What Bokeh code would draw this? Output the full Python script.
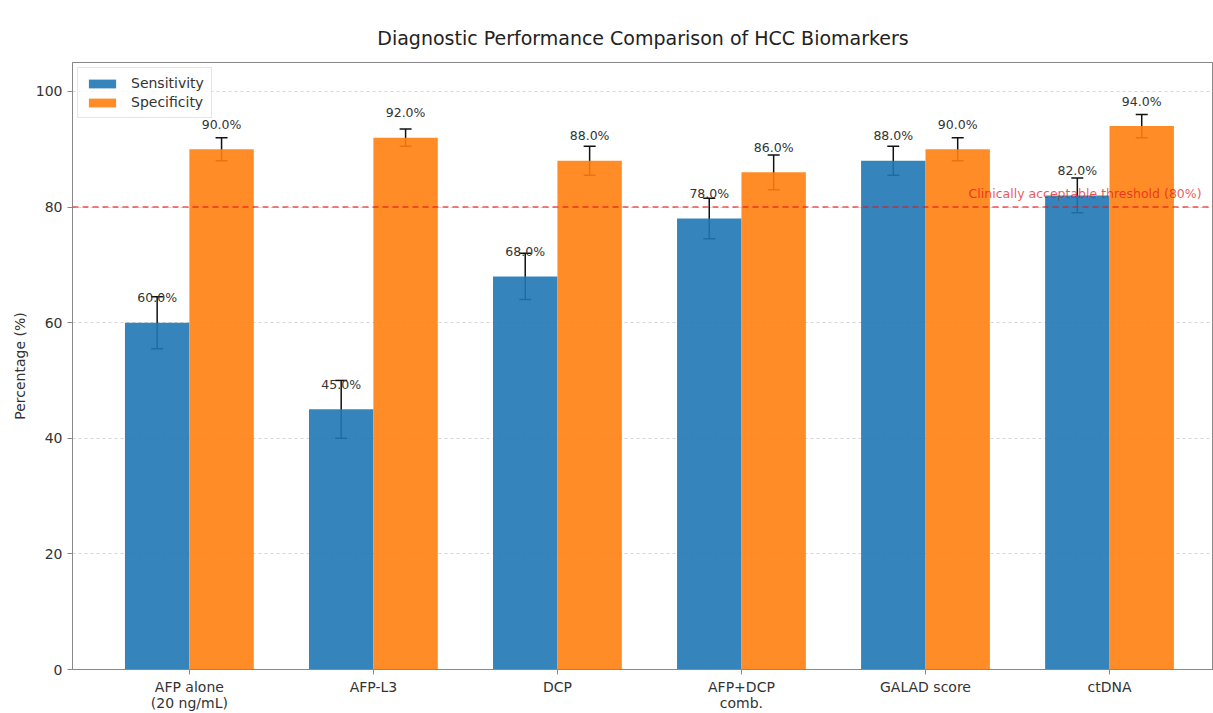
import numpy as np
from bokeh.plotting import figure
from bokeh.models import (ColumnDataSource, Range1d, FixedTicker, Whisker, TeeHead,
                          Span, Label, Legend, LegendItem, LabelSet)
from bokeh.core.properties import value
from bokeh.embed import file_html
from bokeh.resources import INLINE

# ---- data ----
title_text = "Diagnostic Performance Comparison of HCC Biomarkers"
categories = ["AFP alone\n(20 ng/mL)", "AFP-L3", "DCP", "AFP+DCP\ncomb.", "GALAD score", "ctDNA"]
sensitivity = [60, 45, 68, 78, 88, 82]
specificity = [90, 92, 88, 86, 90, 94]
sens_err = [4.5, 5, 4, 3.5, 2.5, 3]
spec_err = [2, 1.5, 2.5, 3, 2, 2]
threshold = 80
y_ticks = [0, 20, 40, 60, 80, 100]

FONT = "DejaVu Sans"
BLUE = "#1f77b4"
ORANGE = "#ff7f0e"
bw = 0.35
YMAX = 105

idx = np.arange(len(categories))
sens = np.array(sensitivity, dtype=float)
spec = np.array(specificity, dtype=float)
se = np.array(sens_err, dtype=float)
pe = np.array(spec_err, dtype=float)

src_s = ColumnDataSource(dict(x=idx - bw / 2, top=sens, lo=sens - se, hi=sens + se,
                              ly=sens + 3, txt=[f"{v:.1f}%" for v in sens]))
src_p = ColumnDataSource(dict(x=idx + bw / 2, top=spec, lo=spec - pe, hi=spec + pe,
                              ly=spec + 3, txt=[f"{v:.1f}%" for v in spec]))

p = figure(width=1213, height=713, output_backend="svg", toolbar_location=None,
           x_range=Range1d(-0.635, 5.565), y_range=Range1d(0, YMAX),
           min_border_left=72, min_border_right=0, min_border_bottom=43, min_border_top=62)

p.title.text = title_text
p.title.align = "center"
p.title.vertical_align = "middle"
p.title.text_font = FONT
p.title.text_font_size = "19px"
p.title.text_font_style = "normal"
p.title.text_color = "#222222"
p.title.standoff = 26

r1 = p.vbar(x="x", top="top", width=bw, source=src_s, fill_color=BLUE, fill_alpha=0.9,
            line_color=None)
r2 = p.vbar(x="x", top="top", width=bw, source=src_p, fill_color=ORANGE, fill_alpha=0.9,
            line_color=None)

for src in (src_s, src_p):
    w = Whisker(base="x", lower="lo", upper="hi", source=src, line_color="#111111",
                line_width=1.5,
                upper_head=TeeHead(size=12, line_color="#111111", line_width=1.5),
                lower_head=TeeHead(size=12, line_color="#111111", line_width=1.5))
    p.add_layout(w)
    ls = LabelSet(x="x", y="ly", text="txt", source=src, text_align="center",
                  text_baseline="bottom", text_font=value(FONT), text_font_size="12.5px",
                  text_color="#333333")
    p.add_layout(ls)

p.add_layout(Span(location=threshold, dimension="width", line_color="#e41a1c",
                  line_alpha=0.75, line_dash="6 4", line_width=1.5))
p.add_layout(Label(x=5.5, y=threshold + 1, text=f"Clinically acceptable threshold ({threshold}%)",
                   text_align="right", text_baseline="bottom", text_font=FONT,
                   text_font_size="12.5px", text_color="#e41a1c", text_alpha=0.75))

legend = Legend(items=[LegendItem(label="Sensitivity", renderers=[r1]),
                       LegendItem(label="Specificity", renderers=[r2])],
                location="top_left", label_text_font=FONT, label_text_font_size="14px",
                label_text_color="#333333", glyph_width=34, glyph_height=11,
                label_standoff=12, spacing=3, padding=7, margin=5,
                border_line_color="#cccccc", background_fill_alpha=0.8, label_height=16)
p.add_layout(legend)

p.xaxis.ticker = FixedTicker(ticks=list(idx))
p.xaxis.major_label_overrides = {int(i): c for i, c in zip(idx, categories)}
p.xaxis.minor_tick_line_color = None
p.yaxis.ticker = FixedTicker(ticks=y_ticks)
p.yaxis.minor_tick_line_color = None
p.yaxis.axis_label = "Percentage (%)"
for ax in (p.xaxis, p.yaxis):
    ax.major_label_text_font = FONT
    ax.major_label_text_font_size = "14px"
    ax.major_label_text_color = "#333333"
    ax.axis_line_color = "#888888"
    ax.major_tick_line_color = "#888888"
    ax.major_tick_out = 5
    ax.major_tick_in = 0
    ax.major_label_standoff = 5
p.xaxis.major_label_standoff = 4
p.xaxis.major_label_text_line_height = 1.0
p.yaxis.axis_label_text_font = FONT
p.yaxis.axis_label_text_font_size = "14px"
p.yaxis.axis_label_text_font_style = "normal"
p.yaxis.axis_label_text_color = "#333333"

p.xgrid.grid_line_color = None
p.ygrid.grid_line_color = "#bbbbbb"
p.ygrid.grid_line_alpha = 0.6
p.ygrid.grid_line_dash = "3 3"
p.outline_line_color = "#888888"

open("out.html", "w").write(file_html(p, INLINE))
